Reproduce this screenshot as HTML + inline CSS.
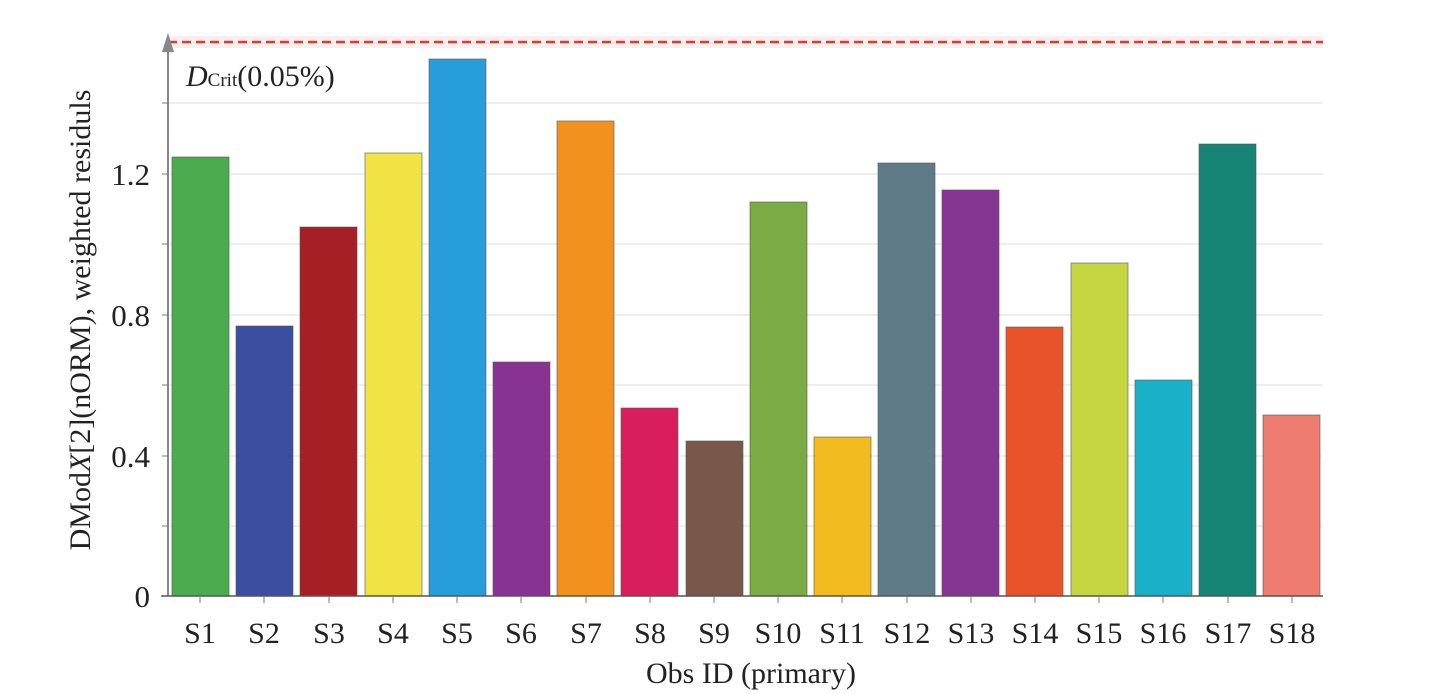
<!DOCTYPE html>
<html><head><meta charset="utf-8"><style>body{margin:0;background:#fff}svg{display:block}</style></head><body>
<svg width="1450" height="694" xmlns="http://www.w3.org/2000/svg" font-family="Liberation Serif, serif">
<rect width="1450" height="694" fill="#fff"/>
<rect x="168" y="36" width="1155" height="12" fill="#fbeeee"/>
<g stroke="#dcdcdc" stroke-width="1">
<line x1="168" x2="1323" y1="526" y2="526"/><line x1="168" x2="1323" y1="456" y2="456"/>
<line x1="168" x2="1323" y1="385" y2="385"/><line x1="168" x2="1323" y1="315" y2="315"/>
<line x1="168" x2="1323" y1="244" y2="244"/><line x1="168" x2="1323" y1="174" y2="174"/>
<line x1="168" x2="1323" y1="103" y2="103"/>
</g>
<line x1="168" x2="1323" y1="42" y2="42" stroke="#e03a30" stroke-width="2.5" stroke-dasharray="9,5"/>
<g stroke-width="1" stroke="#555" stroke-opacity="0.6">
<rect x="172" y="157" width="57" height="439" fill="#4caa4f"/>
<rect x="236" y="326" width="57" height="270" fill="#3b4ea0"/>
<rect x="300" y="227" width="57" height="369" fill="#a61f24"/>
<rect x="365" y="153" width="57" height="443" fill="#f2e345"/>
<rect x="429" y="59" width="57" height="537" fill="#279ddc"/>
<rect x="493" y="362" width="57" height="234" fill="#883393"/>
<rect x="557" y="121" width="57" height="475" fill="#f2911d"/>
<rect x="621" y="408" width="57" height="188" fill="#d91e5e"/>
<rect x="686" y="441" width="57" height="155" fill="#79574a"/>
<rect x="750" y="202" width="57" height="394" fill="#7aab45"/>
<rect x="814" y="437" width="57" height="159" fill="#f2bb1f"/>
<rect x="878" y="163" width="57" height="433" fill="#5f7b87"/>
<rect x="942" y="190" width="57" height="406" fill="#853592"/>
<rect x="1006" y="327" width="57" height="269" fill="#e8532a"/>
<rect x="1071" y="263" width="57" height="333" fill="#c5d640"/>
<rect x="1135" y="380" width="57" height="216" fill="#19b0c8"/>
<rect x="1199" y="144" width="57" height="452" fill="#168576"/>
<rect x="1263" y="415" width="57" height="181" fill="#ef7c70"/>
</g>
<line x1="168" y1="596" x2="168" y2="50" stroke="#888" stroke-width="2"/>
<polygon points="162,52 174,52 168,33" fill="#888"/>
<line x1="161" y1="596" x2="1323" y2="596" stroke="#555" stroke-width="1.5"/>
<g stroke="#777" stroke-width="1">
<line x1="162" x2="168" y1="526" y2="526"/><line x1="162" x2="168" y1="456" y2="456"/><line x1="162" x2="168" y1="385" y2="385"/>
<line x1="162" x2="168" y1="315" y2="315"/><line x1="162" x2="168" y1="244" y2="244"/><line x1="162" x2="168" y1="174" y2="174"/><line x1="162" x2="168" y1="103" y2="103"/>
</g>
<g stroke="#777" stroke-width="1">
<line x1="200" x2="200" y1="596" y2="603"/><line x1="264" x2="264" y1="596" y2="603"/><line x1="329" x2="329" y1="596" y2="603"/><line x1="393" x2="393" y1="596" y2="603"/><line x1="457" x2="457" y1="596" y2="603"/><line x1="521" x2="521" y1="596" y2="603"/><line x1="586" x2="586" y1="596" y2="603"/><line x1="650" x2="650" y1="596" y2="603"/><line x1="714" x2="714" y1="596" y2="603"/><line x1="778" x2="778" y1="596" y2="603"/><line x1="842" x2="842" y1="596" y2="603"/><line x1="907" x2="907" y1="596" y2="603"/><line x1="971" x2="971" y1="596" y2="603"/><line x1="1035" x2="1035" y1="596" y2="603"/><line x1="1099" x2="1099" y1="596" y2="603"/><line x1="1163" x2="1163" y1="596" y2="603"/><line x1="1228" x2="1228" y1="596" y2="603"/><line x1="1292" x2="1292" y1="596" y2="603"/>
</g>
<g font-size="31" fill="#222" text-anchor="end">
<text x="150" y="607">0</text><text x="150" y="467">0.4</text><text x="150" y="326">0.8</text><text x="150" y="185">1.2</text>
</g>
<g font-size="30" fill="#222" text-anchor="middle">
<text x="200" y="643">S1</text><text x="264" y="643">S2</text><text x="329" y="643">S3</text><text x="393" y="643">S4</text><text x="457" y="643">S5</text><text x="521" y="643">S6</text><text x="586" y="643">S7</text><text x="650" y="643">S8</text><text x="714" y="643">S9</text><text x="778" y="643">S10</text><text x="842" y="643">S11</text><text x="907" y="643">S12</text><text x="971" y="643">S13</text><text x="1035" y="643">S14</text><text x="1099" y="643">S15</text><text x="1163" y="643">S16</text><text x="1228" y="643">S17</text><text x="1292" y="643">S18</text>
</g>
<text x="751" y="683" font-size="30" fill="#222" text-anchor="middle">Obs ID (primary)</text>
<text transform="translate(90,320) rotate(-90)" font-size="30" fill="#222" text-anchor="middle">DMod<tspan font-style="italic">X</tspan>[2](nORM), weighted residuls</text>
<text x="186" y="86" font-size="30" fill="#222"><tspan font-style="italic">D</tspan><tspan font-size="19">Crit</tspan>(0.05%)</text>
</svg>
</body></html>
